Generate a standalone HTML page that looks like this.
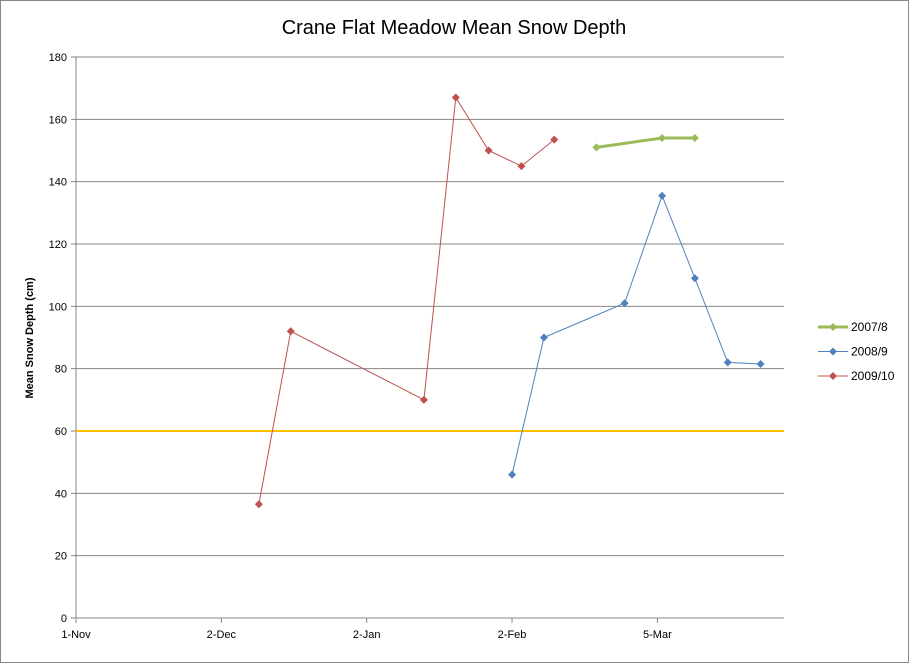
<!DOCTYPE html>
<html><head><meta charset="utf-8"><style>
body{margin:0;background:#fff;}
svg{display:block;font-family:"Liberation Sans",Arial,sans-serif;}
</style></head><body>
<svg id="c" width="910" height="664" viewBox="0 0 910 664">
<rect x="0.5" y="0.5" width="908" height="662" fill="#fff" stroke="#888"/>
<text x="454" y="34" text-anchor="middle" font-size="20">Crane Flat Meadow Mean Snow Depth</text>
<text transform="translate(33,338) rotate(-90)" text-anchor="middle" font-size="11" font-weight="bold">Mean Snow Depth (cm)</text>
<g id="grid"></g><g id="series"></g><g id="legend"></g>
</svg>
<script>
const yTicks=[0,20,40,60,80,100,120,140,160,180];
const xTickDays=[0,31,62,93,124];
const xTickLabels=["1-Nov","2-Dec","2-Jan","2-Feb","5-Mar"];
const refValue=60;
const s0708Days=[111,125,132];
const s0708Vals=[151,154,154];
const s0809Days=[93,99.8,117,125,132,139,146];
const s0809Vals=[46,90,101,135.5,109,82,81.5];
const s0910Days=[39,45.8,74.2,81,88,95,102];
const s0910Vals=[36.5,92,70,167,150,145,153.5];
const seriesNames=["2007/8","2008/9","2009/10"];

const NS="http://www.w3.org/2000/svg";
const X0=76,X1=784,Y0=618,Y1=57,DMAX=151,VMAX=180;
const xs=d=>X0+d/DMAX*(X1-X0);
const ys=v=>Y0-v/VMAX*(Y0-Y1);
function mk(t,a,p){const e=document.createElementNS(NS,t);for(const k in a)e.setAttribute(k,a[k]);p.appendChild(e);return e;}
const grid=document.getElementById('grid');
yTicks.forEach(v=>{
  const l=mk('line',{x1:X0-5,x2:X1,y1:ys(v),y2:ys(v),stroke:v===0?'#868686':'#868686','stroke-width':1},grid);
  
  
  const t=mk('text',{x:X0-9,y:ys(v)+4,'text-anchor':'end','font-size':11},grid);t.textContent=v;
  
  
});
mk('line',{x1:X0,x2:X0,y1:Y1,y2:Y0+5,stroke:'#868686'},grid);
xTickDays.forEach((d,i)=>{
  mk('line',{x1:xs(d),x2:xs(d),y1:Y0,y2:Y0+5,stroke:'#868686'},grid);
  const t=mk('text',{x:xs(d),y:Y0+20,'text-anchor':'middle','font-size':11},grid);t.textContent=xTickLabels[i];
  
  
});
const ref=mk('line',{x1:X0,x2:X1,y1:ys(refValue),y2:ys(refValue),stroke:'#FFC000','stroke-width':2},grid);



const ser=document.getElementById('series');
function diamond(g,x,y,r,c){mk('path',{d:`M${x},${y-r}L${x+r},${y}L${x},${y+r}L${x-r},${y}Z`,fill:c},g);}
function draw(days,vals,color,w,name){
  const g=mk('g',{},ser);
  
  
  mk('polyline',{points:days.map((d,i)=>xs(d)+','+ys(vals[i])).join(' '),fill:'none',stroke:color,'stroke-width':w},g);
  days.forEach((d,i)=>diamond(g,xs(d),ys(vals[i]),4,color));
}
const colors=["#9BBB59","#4F81BD","#C0504D"],widths=[3,1,1];
draw(s0708Days,s0708Vals,colors[0],widths[0],'series-2007-8');
draw(s0809Days,s0809Vals,colors[1],widths[1],'series-2008-9');
draw(s0910Days,s0910Vals,colors[2],widths[2],'series-2009-10');

const lg=document.getElementById('legend');
seriesNames.forEach((n,i)=>{
  const y=327+i*24.5;
  const g=mk('g',{},lg);
  
  
  mk('line',{x1:818,x2:848,y1:y,y2:y,stroke:colors[i],'stroke-width':widths[i]},g);
  diamond(g,833,y,4,colors[i]);
  const t=mk('text',{x:851,y:y+4,'font-size':12},g);t.textContent=n;
});
</script>
</body></html>
